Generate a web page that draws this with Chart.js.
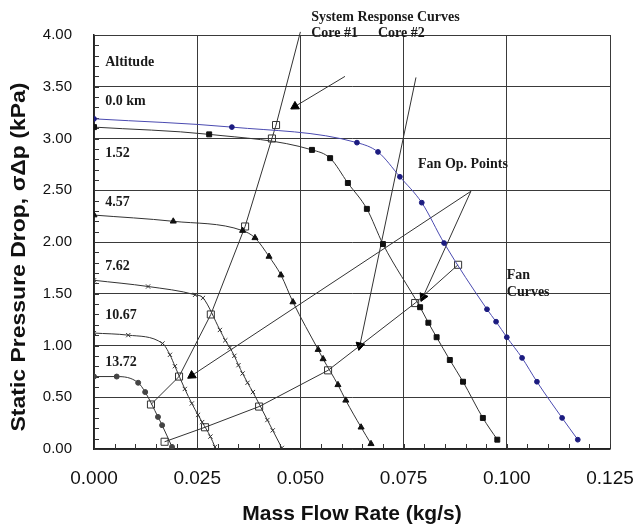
<!DOCTYPE html>
<html>
<head>
<meta charset="utf-8">
<script src="https://cdn.jsdelivr.net/npm/chart.js@4.4.1/dist/chart.umd.min.js"></script>
<style>
  html, body { margin: 0; padding: 0; background: #fff; }
  #wrap { width: 635px; height: 527px; }
</style>
</head>
<body>
<div id="wrap"><canvas id="chart" width="635" height="527"></canvas></div>
<script>
// fan curves, one x/y pair per altitude (x = mass flow kg/s, y = kPa)
const fan00x = [0, 0.0334, 0.0637, 0.0688, 0.0741, 0.0794, 0.0848, 0.0952, 0.0974, 0.1000, 0.1037, 0.1073, 0.1134, 0.1172];
const fan00y = [3.19, 3.11, 2.96, 2.87, 2.63, 2.38, 1.99, 1.35, 1.23, 1.08, 0.88, 0.65, 0.30, 0.09];

const fan152x = [0, 0.0279, 0.0528, 0.0572, 0.0615, 0.0661, 0.0700, 0.0790, 0.0810, 0.0830, 0.0862, 0.0894, 0.0942, 0.0977];
const fan152y = [3.11, 3.04, 2.89, 2.81, 2.57, 2.32, 1.98, 1.37, 1.22, 1.08, 0.86, 0.65, 0.30, 0.09];

const fan457x = [0, 0.0192, 0.0360, 0.0390, 0.0424, 0.0453, 0.0482, 0.0543, 0.0555, 0.0591, 0.0610, 0.0647, 0.0671];
const fan457y = [2.26, 2.20, 2.11, 2.04, 1.86, 1.68, 1.42, 0.96, 0.87, 0.62, 0.47, 0.21, 0.05];

const fan762x = [0, 0.0131, 0.0245, 0.0264, 0.0305, 0.0318, 0.0329, 0.0340, 0.0350, 0.0360, 0.0372, 0.0385, 0.0420, 0.0433, 0.0455];
const fan762y = [1.63, 1.57, 1.49, 1.46, 1.15, 1.05, 0.98, 0.90, 0.81, 0.73, 0.64, 0.55, 0.28, 0.18, 0.01];

const fan1067x = [0, 0.0083, 0.0166, 0.0184, 0.0196, 0.0220, 0.0237, 0.0252, 0.0262, 0.0282, 0.0293];
const fan1067y = [1.12, 1.10, 1.02, 0.91, 0.80, 0.58, 0.44, 0.33, 0.26, 0.12, 0.02];

const fan1372x = [0, 0.0055, 0.0107, 0.0124, 0.0155, 0.0165, 0.0189];
const fan1372y = [0.70, 0.70, 0.64, 0.55, 0.31, 0.23, 0.02];

// fan operating points (system response curves), last core #1 point is the line end only
const core1x = [0.0138, 0.0206, 0.0283, 0.0366, 0.0431, 0.0441, 0.0500];
const core1y = [0.43, 0.70, 1.30, 2.15, 3.00, 3.13, 4.03];
const core2x = [0.0171, 0.0269, 0.0400, 0.0567, 0.0778, 0.0882];
const core2y = [0.07, 0.21, 0.41, 0.76, 1.41, 1.78];

// arrows: [tail, head]
const arrowCore1 = [[0.0608, 3.60], [0.0487, 3.31]];
const arrowCore2 = [[0.0780, 3.59], [0.0644, 1.00]];
const arrowOp1 = [[0.0913, 2.49], [0.0237, 0.71]];
const arrowOp2 = [[0.0913, 2.49], [0.0797, 1.47]];

const altitudes = ['0.0 km', '1.52', '4.57', '7.62', '10.67', '13.72'];

// text notes placed at data coordinates
const notes = [
    { text: 'Altitude', x: 0.0027, y: 3.74 },
    { text: altitudes[0], x: 0.0027, y: 3.36 },
    { text: altitudes[1], x: 0.0027, y: 2.86 },
    { text: altitudes[2], x: 0.0027, y: 2.38 },
    { text: altitudes[3], x: 0.0027, y: 1.76 },
    { text: altitudes[4], x: 0.0027, y: 1.29 },
    { text: altitudes[5], x: 0.0027, y: 0.84 },
    { text: 'System Response Curves', x: 0.0526, y: 4.17 },
    { text: 'Core #1', x: 0.0526, y: 4.02 },
    { text: 'Core #2', x: 0.0688, y: 4.02 },
    { text: 'Fan Op. Points', x: 0.0785, y: 2.75 },
    { text: 'Fan', x: 0.1000, y: 1.68 },
    { text: 'Curves', x: 0.1000, y: 1.51 }
];

const pts = (xs, ys) => xs.map((x, i) => ({ x: x, y: ys[i] }));
const pair = a => a.map(p => ({ x: p[0], y: p[1] }));

function fanSet(label, xs, ys, style, radius, color, lineColor) {
    return {
        label: label,
        data: pts(xs, ys),
        borderColor: lineColor || '#333',
        borderWidth: 1,
        pointStyle: style,
        pointRadius: radius,
        pointBackgroundColor: color || '#111',
        pointBorderColor: color || '#111',
        pointBorderWidth: 1,
        cubicInterpolationMode: 'monotone'
    };
}

function arrowSet(a) {
    return {
        data: pair(a),
        borderColor: '#333',
        borderWidth: 1,
        pointStyle: 'triangle',
        pointRadius: [0, 5],
        pointBackgroundColor: '#000',
        pointBorderColor: '#000',
        pointRotation: (ctx) => {
            const ch = ctx.chart;
            const d = ch.data.datasets[ctx.datasetIndex].data;
            const sx = ch.scales.x, sy = ch.scales.y;
            const dx = sx.getPixelForValue(d[1].x) - sx.getPixelForValue(d[0].x);
            const dy = sy.getPixelForValue(d[1].y) - sy.getPixelForValue(d[0].y);
            return Math.atan2(dy, dx) * 180 / Math.PI + 90;
        },
        tension: 0
    };
}

const decorPlugin = {
    id: 'decor',
    beforeDatasetsDraw(chart) {
        const { ctx, scales: { x, y } } = chart;
        ctx.save();
        ctx.strokeStyle = '#333';
        ctx.lineWidth = 1;
        ctx.beginPath();
        for (let i = 0; i <= 25; i++) {
            const px = Math.round(x.getPixelForValue(i * 0.005)) + 0.5;
            ctx.moveTo(px, y.bottom);
            ctx.lineTo(px, y.bottom - 5);
        }
        for (let i = 0; i <= 40; i++) {
            const py = Math.round(y.getPixelForValue(i * 0.1)) + 0.5;
            ctx.moveTo(x.left, py);
            ctx.lineTo(x.left + 5, py);
        }
        ctx.stroke();
        ctx.restore();
    },
    afterDraw(chart) {
        const { ctx, scales: { x, y } } = chart;
        ctx.save();
        ctx.fillStyle = '#1a1a1a';
        ctx.font = 'bold 14px "Liberation Serif", "Times New Roman", serif';
        ctx.textAlign = 'left';
        ctx.textBaseline = 'middle';
        notes.forEach(n => ctx.fillText(n.text, x.getPixelForValue(n.x), y.getPixelForValue(n.y)));

        // axis titles
        ctx.fillStyle = '#111';
        ctx.font = 'bold 21px "Liberation Sans", Arial, sans-serif';
        ctx.textAlign = 'center';
        ctx.fillText('Mass Flow Rate (kg/s)', (x.left + x.right) / 2, 514);
        const yTitle = 'Static Pressure Drop, σΔp (kPa)';
        const stretch = 349 / ctx.measureText(yTitle).width;
        ctx.translate(19, 257);
        ctx.rotate(-Math.PI / 2);
        ctx.scale(stretch, 1);
        ctx.fillText(yTitle, 0, 0);
        ctx.restore();
    }
};

new Chart(document.getElementById('chart'), {
    type: 'line',
    data: {
        datasets: [
            fanSet(altitudes[0], fan00x, fan00y, 'circle', 2.4, '#1c1c80', '#4a4ab0'),
            fanSet(altitudes[1], fan152x, fan152y, 'rect', 3.5),
            fanSet(altitudes[2], fan457x, fan457y, 'triangle', 3.5),
            fanSet(altitudes[3], fan762x, fan762y, 'crossRot', 3, '#333'),
            fanSet(altitudes[4], fan1067x, fan1067y, 'crossRot', 3, '#333'),
            fanSet(altitudes[5], fan1372x, fan1372y, 'circle', 2.5, '#444'),
            {
                label: 'Core #1',
                data: pts(core1x, core1y),
                borderColor: '#333',
                borderWidth: 1,
                pointStyle: 'rect',
                pointRadius: core1x.map((v, i) => i === core1x.length - 1 ? 0 : 5),
                pointBackgroundColor: 'rgba(255,255,255,0)',
                pointBorderColor: '#333',
                pointBorderWidth: 1,
                tension: 0,
                clip: false
            },
            {
                label: 'Core #2',
                data: pts(core2x, core2y),
                borderColor: '#333',
                borderWidth: 1,
                pointStyle: 'rect',
                pointRadius: 5,
                pointBackgroundColor: 'rgba(255,255,255,0)',
                pointBorderColor: '#333',
                pointBorderWidth: 1,
                tension: 0
            },
            arrowSet(arrowCore1),
            arrowSet(arrowCore2),
            arrowSet(arrowOp1),
            arrowSet(arrowOp2)
        ]
    },
    options: {
        responsive: false,
        animation: false,
        layout: { padding: { left: 0, top: 35, right: 25, bottom: 0 } },
        plugins: { legend: { display: false }, tooltip: { enabled: false } },
        scales: {
            x: {
                type: 'linear',
                min: 0,
                max: 0.125,
                afterFit: s => { s.height = 78; s.paddingLeft = 0; s.paddingRight = 0; },
                ticks: {
                    stepSize: 0.025,
                    padding: 18,
                    color: '#111',
                    font: { size: 19, family: '"Liberation Sans", Arial, sans-serif' },
                    callback: v => v.toFixed(3)
                },
                grid: { color: '#3a3a3a', lineWidth: 1, drawTicks: false },
                border: { color: '#222', width: 1.5 }
            },
            y: {
                type: 'linear',
                min: 0,
                max: 4,
                afterFit: s => { s.width = 94; s.paddingTop = 0; s.paddingBottom = 0; },
                ticks: {
                    stepSize: 0.5,
                    padding: 22,
                    color: '#111',
                    font: { size: 15, family: '"Liberation Sans", Arial, sans-serif' },
                    callback: v => v.toFixed(2)
                },
                grid: { color: '#3a3a3a', lineWidth: 1, drawTicks: false },
                border: { color: '#222', width: 1.5 }
            }
        }
    },
    plugins: [decorPlugin]
});
</script>
</body>
</html>
